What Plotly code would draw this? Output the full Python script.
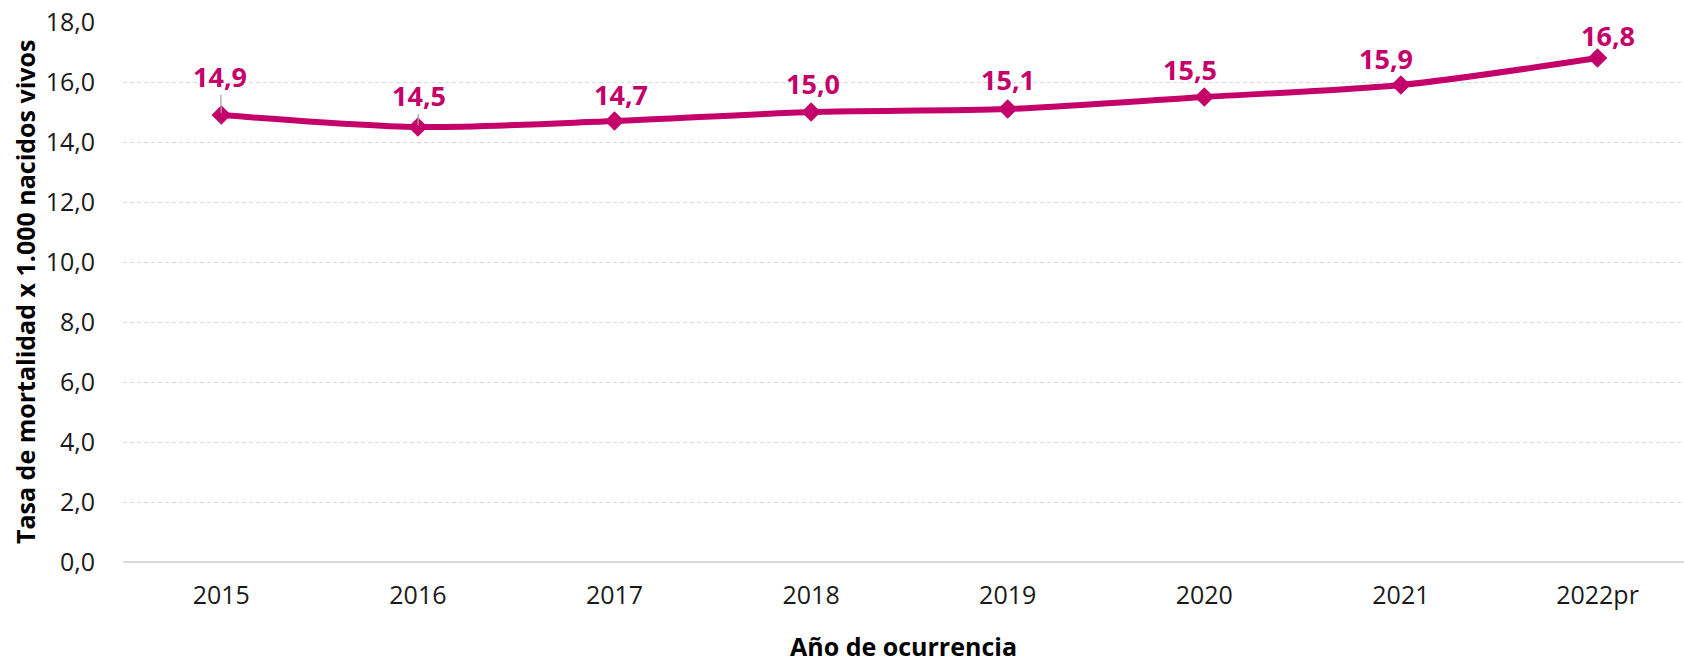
import plotly.graph_objects as go

# Mortality rate per 1,000 live births by year of occurrence
years = ["2015", "2016", "2017", "2018", "2019", "2020", "2021", "2022pr"]
rates = [14.9, 14.5, 14.7, 15.0, 15.1, 15.5, 15.9, 16.8]
y_ticks = [0, 2, 4, 6, 8, 10, 12, 14, 16, 18]
y_tick_text = ["0,0", "2,0", "4,0", "6,0", "8,0", "10,0", "12,0", "14,0", "16,0", "18,0"]

# label placement (pixel offsets from each point) and leader-line visibility
label_dx = [-1, 1, 6, 2, 0, -14, -15, 10]
label_dy = [-39, -32, -27, -29, -30, -28, -27, -23]
leader = [True, True, False, False, False, False, False, False]

MAGENTA = "#C4006A"
FONT = "Open Sans"

fig = go.Figure()
fig.add_trace(go.Scatter(
    x=list(range(len(years))),
    y=rates,
    mode="lines+markers",
    line=dict(color=MAGENTA, width=6, shape="spline", smoothing=0.8),
    marker=dict(symbol="diamond", size=15, color=MAGENTA),
    hoverinfo="skip",
    showlegend=False,
))

for i, (v, dx, dy, ld) in enumerate(zip(rates, label_dx, label_dy, leader)):
    fig.add_annotation(
        x=i, y=v, xref="x", yref="y",
        text=f"<b>{v:.1f}</b>".replace(".", ","),
        showarrow=True, ax=dx, ay=dy, axref="pixel", ayref="pixel",
        arrowhead=0, arrowwidth=1.3, standoff=2,
        arrowcolor="#A6A6A6" if ld else "rgba(0,0,0,0)",
        font=dict(family=FONT, size=27, color=MAGENTA),
        borderpad=0,
    )

fig.add_annotation(
    x=0, y=0.5, xref="paper", yref="paper",
    text="<b>Tasa de mortalidad x 1.000 nacidos vivos</b>", showarrow=False,
    textangle=-90, xanchor="center", yanchor="middle", xshift=-98,
    font=dict(family=FONT, size=25, color="#000000"),
)

fig.update_xaxes(
    range=[-0.5, 7.44],
    tickmode="array",
    tickvals=list(range(len(years))),
    ticktext=years,
    showgrid=False, showline=False, zeroline=False,
    ticks="", ticklabelstandoff=16,
    tickfont=dict(family=FONT, size=25, color="#1A1A1A"),
    title=dict(text="<b>Año de ocurrencia</b>", standoff=29,
               font=dict(family=FONT, size=25, color="#000000")),
)
fig.update_yaxes(
    range=[0, 18],
    tickmode="array",
    tickvals=y_ticks,
    ticktext=y_tick_text,
    showgrid=True, gridcolor="#D9D9D9", gridwidth=1, griddash="4px,3px",
    zeroline=True, zerolinecolor="#D9D9D9", zerolinewidth=2,
    showline=False, ticks="", ticklabelstandoff=27,
    tickfont=dict(family=FONT, size=25, color="#1A1A1A"),
)

fig.update_layout(
    width=1684, height=663,
    margin=dict(l=123, r=0, t=22, b=101, autoexpand=False),
    paper_bgcolor="white", plot_bgcolor="white",
    font=dict(family=FONT),
)

fig.write_html("out.html")
